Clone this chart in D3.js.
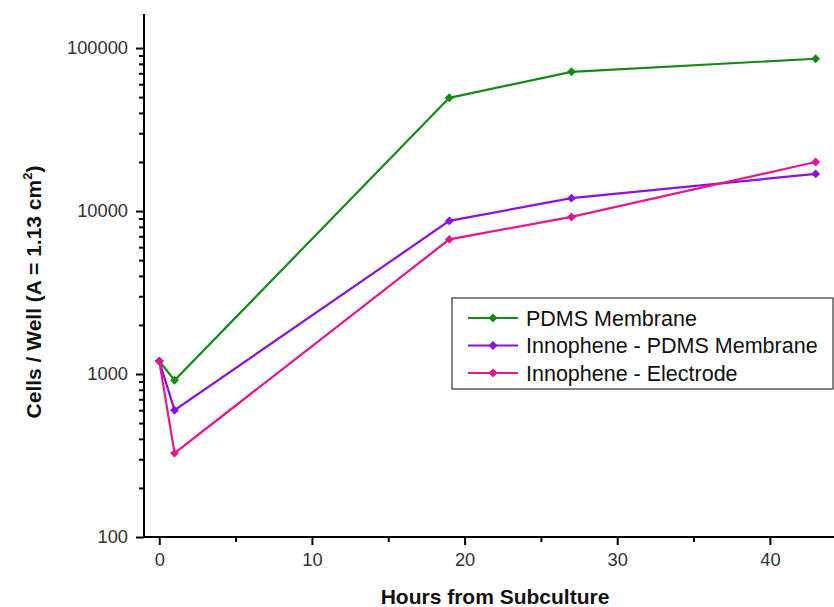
<!DOCTYPE html>
<html>
<head>
<meta charset="utf-8">
<script src="https://cdn.jsdelivr.net/npm/d3@7"></script>
<style>
  body { margin: 0; background: #fff; }
  svg { font-family: "Liberation Sans", Arial, sans-serif; }
</style>
</head>
<body>
<svg id="canvas" width="834" height="607"></svg>
<script>
// hours from subculture
const hours = [0, 1, 19, 27, 43];

const seriesNames = ["PDMS Membrane", "Innophene - PDMS Membrane", "Innophene - Electrode"];
const pdms = [1200, 915, 49500, 71500, 86000];
const innoPdms = [1200, 600, 8700, 12000, 16900];
const innoElectrode = [1200, 327, 6700, 9200, 20000];
const seriesColors = ["#168a16", "#8a12dc", "#e8168c"];

const xTicks = [0, 10, 20, 30, 40];
const xMinorTicks = [5, 15, 25, 35];
const yTicks = [100, 1000, 10000, 100000];

const settings = {
  left: 144, right: 834, top: 14, bottom: 537,
  tickFont: 18.3,
};

function graph() {
  const svg = d3.select('#canvas');

  const x = d3.scaleLinear()
    .domain([-1, 44.2])
    .range([settings.left, settings.right]);

  const y = d3.scaleLog()
    .domain([100, 161800])
    .range([settings.bottom, settings.top]);

  // minor log ticks between decades
  const yMinor = [];
  [100, 1000, 10000].forEach(d => {
    for (let k = 2; k <= 9; k++) yMinor.push(d * k);
  });

  // y axis
  svg.append("g")
    .attr("transform", `translate(${settings.left},0)`)
    .call(d3.axisLeft(y).tickValues(yMinor).tickSize(5).tickFormat("").tickSizeOuter(0))
    .call(g => g.select(".domain").remove())
    .selectAll("line").attr("stroke", "#000").attr("stroke-width", 2);

  const ya = svg.append("g")
    .attr("transform", `translate(${settings.left},0)`)
    .call(d3.axisLeft(y).tickValues(yTicks).tickSize(8).tickSizeOuter(0).tickFormat(d3.format("d")).tickPadding(8));
  ya.select(".domain").attr("stroke", "#000").attr("stroke-width", 2)
    .attr("d", `M0,${settings.top}V${settings.bottom}`);
  ya.selectAll(".tick line").attr("stroke", "#000").attr("stroke-width", 2);
  ya.selectAll(".tick text").attr("font-size", settings.tickFont).attr("fill", "#333")
    .attr("font-family", "Liberation Sans, Arial, sans-serif");

  // x axis
  svg.append("g")
    .attr("transform", `translate(0,${settings.bottom})`)
    .call(d3.axisBottom(x).tickValues(xMinorTicks).tickSize(5).tickFormat(""))
    .call(g => g.select(".domain").remove())
    .selectAll("line").attr("stroke", "#000").attr("stroke-width", 2);

  const xa = svg.append("g")
    .attr("transform", `translate(0,${settings.bottom})`)
    .call(d3.axisBottom(x).tickValues(xTicks).tickSize(8).tickSizeOuter(0).tickPadding(8));
  xa.select(".domain").attr("stroke", "#000").attr("stroke-width", 2)
    .attr("d", `M${settings.left - 1},0H${settings.right}`);
  xa.selectAll(".tick line").attr("stroke", "#000").attr("stroke-width", 2);
  xa.selectAll(".tick text").attr("font-size", settings.tickFont).attr("fill", "#333")
    .attr("font-family", "Liberation Sans, Arial, sans-serif");

  // axis titles
  svg.append("text")
    .attr("x", 495).attr("y", 604)
    .attr("text-anchor", "middle")
    .attr("font-size", 21).attr("font-weight", "bold")
    .attr("fill", "#111")
    .text("Hours from Subculture");

  const yl = svg.append("text")
    .attr("transform", "translate(41,292) rotate(-90)")
    .attr("text-anchor", "middle")
    .attr("font-size", 21).attr("font-weight", "bold")
    .attr("fill", "#111");
  yl.append("tspan").text("Cells / Well (A = 1.13 cm");
  yl.append("tspan").attr("font-size", 13).attr("dy", -9).text("2");
  yl.append("tspan").attr("dy", 9).text(")");

  const allSeries = [pdms, innoPdms, innoElectrode];
  // diamond = square turned 45deg
  const diamond = d3.symbol().type(d3.symbolSquare).size(40);

  const line = d3.line()
    .x((d, i) => x(hours[i]))
    .y(d => y(d));

  allSeries.forEach((vals, si) => {
    const g = svg.append("g");
    g.append("path")
      .datum(vals)
      .attr("fill", "none")
      .attr("stroke", seriesColors[si])
      .attr("stroke-width", 2.2)
      .attr("d", line);
    g.selectAll("path.pt")
      .data(vals)
      .join("path")
      .attr("class", "pt")
      .attr("transform", (d, i) => `translate(${x(hours[i])},${y(d)}) rotate(45)`)
      .attr("d", diamond)
      .attr("fill", seriesColors[si]);
  });

  // legend
  const lg = svg.append("g");
  lg.append("rect")
    .attr("x", 452).attr("y", 298)
    .attr("width", 381).attr("height", 91)
    .attr("fill", "#fff").attr("stroke", "#333").attr("stroke-width", 1.2);

  seriesNames.forEach((name, i) => {
    const yy = 318 + i * 27.5;
    lg.append("line")
      .attr("x1", 468).attr("x2", 518)
      .attr("y1", yy).attr("y2", yy)
      .attr("stroke", seriesColors[i]).attr("stroke-width", 2.2);
    lg.append("path")
      .attr("transform", `translate(493,${yy}) rotate(45)`)
      .attr("d", diamond)
      .attr("fill", seriesColors[i]);
    lg.append("text")
      .attr("x", 526).attr("y", yy + 7.5)
      .attr("font-size", 21.5)
      .attr("fill", "#111")
      .text(name);
  });
}

window.addEventListener('DOMContentLoaded', () => graph());
</script>
</body>
</html>
